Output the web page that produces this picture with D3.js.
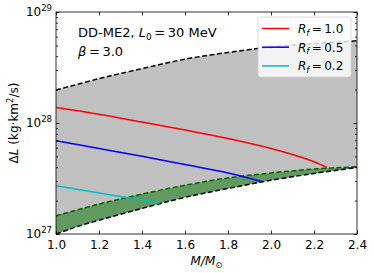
<!DOCTYPE html>
<html>
<head>
<meta charset="utf-8">
<script src="https://cdn.jsdelivr.net/npm/d3@7"></script>
<style>
  body { margin: 0; background: #fff; }
  text { font-family: "DejaVu Sans", sans-serif; fill: #000; }
</style>
</head>
<body>
<div class="chart"></div>
<script>
// values (M in solar masses, dL in kg km^2/s)
var massGrid = [1.0, 1.2, 1.4, 1.6, 1.8, 2.0, 2.2, 2.4];
var upperBound = [1.98e28, 2.51e28, 3.09e28, 3.76e28, 4.32e28, 4.84e28, 5.19e28, 5.50e28];
var greenTop = [1.46e27, 1.86e27, 2.29e27, 2.75e27, 3.20e27, 3.55e27, 3.85e27, 4.03e27];
var lowerMass = [1.0, 1.05, 1.1, 1.2, 1.4, 1.6, 1.8, 2.0, 2.2, 2.4];
var lowerBound = [1.0e27, 1.08e27, 1.17e27, 1.33e27, 1.70e27, 2.14e27, 2.57e27, 3.05e27, 3.51e27, 3.98e27];

var redMass = [1.0, 1.2, 1.4, 1.6, 1.8, 2.0, 2.1, 2.2, 2.26];
var redVals = [1.38e28, 1.20e28, 1.02e28, 8.65e27, 7.26e27, 5.90e27, 5.20e27, 4.48e27, 3.98e27];
var blueMass = [1.0, 1.2, 1.4, 1.6, 1.8, 1.96];
var blueVals = [6.92e27, 5.89e27, 5.01e27, 4.22e27, 3.55e27, 2.96e27];
var cyanMass = [1.0, 1.2, 1.4, 1.48];
var cyanVals = [2.72e27, 2.34e27, 2.02e27, 1.89e27];

var xTicks = [1.0, 1.2, 1.4, 1.6, 1.8, 2.0, 2.2, 2.4];
var yTicks = [1e27, 1e28, 1e29];
var legendLabels = ["1.0", "0.5", "0.2"];
var legendColors = ["#ff0000", "#0000ff", "#00bfbf"];

var svgWidth = 374, svgHeight = 273;
var margin = { top: 12, right: 17, bottom: 39, left: 56 };
var width = svgWidth - margin.left - margin.right;
var height = svgHeight - margin.top - margin.bottom;

var svg = d3.select(".chart").append("svg")
  .attr("width", svgWidth)
  .attr("height", svgHeight);

var chartGroup = svg.append("g")
  .attr("transform", `translate(${margin.left}, ${margin.top})`);

var x = d3.scaleLinear().domain([1.0, 2.4]).range([0, width]);
var y = d3.scaleLog().domain([1e27, 1e29]).range([height, 0]);

function pairs(ms, vs) { return ms.map((m, i) => [m, vs[i]]); }

var line = d3.line().x(d => x(d[0])).y(d => y(d[1])).curve(d3.curveCatmullRom);

// gray band between upper bound and lower bound
var upperPts = pairs(massGrid, upperBound);
var lowerPts = pairs(lowerMass, lowerBound);
var grayPath = line(upperPts) + "L" + line(lowerPts.slice().reverse()).slice(1) + "Z";
chartGroup.append("path").attr("d", grayPath).attr("fill", "#c0c0c0");

// green band
var greenPts = pairs(massGrid, greenTop);
var greenPath = line(greenPts) + "L" + line(lowerPts.slice().reverse()).slice(1) + "Z";
chartGroup.append("path").attr("d", greenPath).attr("fill", "#609a60");

// dashed bounds
chartGroup.append("path").attr("d", line(greenPts))
  .attr("fill", "none").attr("stroke", "#006400").attr("stroke-width", 1.5)
  .attr("stroke-dasharray", "5,2.5");
chartGroup.append("path").attr("d", line(upperPts))
  .attr("fill", "none").attr("stroke", "#000").attr("stroke-width", 1.5)
  .attr("stroke-dasharray", "5,2.5");
chartGroup.append("path").attr("d", line(lowerPts))
  .attr("fill", "none").attr("stroke", "#000").attr("stroke-width", 1.5)
  .attr("stroke-dasharray", "5,2.5");

// R_f curves
var curves = [pairs(redMass, redVals), pairs(blueMass, blueVals), pairs(cyanMass, cyanVals)];
curves.forEach(function (c, i) {
  chartGroup.append("path").attr("d", line(c))
    .attr("fill", "none").attr("stroke", legendColors[i]).attr("stroke-width", 1.5);
});

// axes (ticks inward on all sides)
var minorY = [];
[1e27, 1e28].forEach(function (b) {
  for (var k = 2; k <= 9; k++) minorY.push(b * k);
});

function styleAxis(g) {
  g.select(".domain").remove();
  g.selectAll("line").attr("stroke", "#000").attr("stroke-width", 0.8);
}

chartGroup.append("g")
  .attr("transform", `translate(0, ${height})`)
  .call(d3.axisBottom(x).tickValues(xTicks).tickSizeInner(-3.5).tickPadding(6).tickFormat(d3.format(".1f")))
  .call(styleAxis)
  .selectAll("text").attr("font-size", "12px").attr("font-family", "DejaVu Sans");

chartGroup.append("g")
  .call(d3.axisTop(x).tickValues(xTicks).tickSizeInner(-3.5).tickFormat(""))
  .call(styleAxis);

chartGroup.append("g")
  .call(d3.axisLeft(y).tickValues(yTicks).tickSizeInner(-3.5).tickFormat(""))
  .call(styleAxis);
chartGroup.append("g")
  .call(d3.axisLeft(y).tickValues(minorY).tickSizeInner(-2).tickFormat(""))
  .call(styleAxis);
chartGroup.append("g")
  .attr("transform", `translate(${width}, 0)`)
  .call(d3.axisRight(y).tickValues(yTicks).tickSizeInner(-3.5).tickFormat(""))
  .call(styleAxis);
chartGroup.append("g")
  .attr("transform", `translate(${width}, 0)`)
  .call(d3.axisRight(y).tickValues(minorY).tickSizeInner(-2).tickFormat(""))
  .call(styleAxis);

// y tick labels with superscripts
yTicks.forEach(function (t) {
  var lab = chartGroup.append("text")
    .attr("x", -4)
    .attr("y", y(t) + 4)
    .attr("text-anchor", "end")
    .attr("font-size", "12px");
  lab.append("tspan").text("10");
  lab.append("tspan").attr("dy", -5).attr("font-size", "8.5px").text(Math.round(Math.log10(t)));
});

// frame
chartGroup.append("rect")
  .attr("width", width).attr("height", height)
  .attr("fill", "none").attr("stroke", "#000").attr("stroke-width", 0.8);

// annotation
var ann = chartGroup.append("text").attr("x", 22).attr("y", 25).attr("font-size", "13px");
ann.append("tspan").text("DD-ME2, ");
ann.append("tspan").attr("font-style", "italic").text("L");
ann.append("tspan").attr("font-size", "9px").attr("dy", 2.5).text("0");
ann.append("tspan").attr("dy", -2.5).text("\u2009=\u200930 MeV");
chartGroup.append("text").attr("x", 22).attr("y", 44).attr("font-size", "13px")
  .html('<tspan font-style="italic">β</tspan>\u2009=\u20093.0');

// legend
var lg = chartGroup.append("g").attr("transform", `translate(${258 - margin.left}, ${17 - margin.top})`);
lg.append("rect").attr("width", 93).attr("height", 60).attr("rx", 2.5)
  .attr("fill", "#fff").attr("fill-opacity", 0.8).attr("stroke", "#d0d0d0").attr("stroke-width", 0.8);
legendLabels.forEach(function (l, i) {
  var yy = 11.5 + i * 18.7;
  lg.append("line").attr("x1", 4).attr("x2", 31).attr("y1", yy).attr("y2", yy)
    .attr("stroke", legendColors[i]).attr("stroke-width", 1.5);
  var t = lg.append("text").attr("x", 40).attr("y", yy + 4.5).attr("font-size", "12px");
  t.append("tspan").attr("font-style", "italic").text("R");
  t.append("tspan").attr("font-style", "italic").attr("font-size", "8.5px").attr("dy", 2.5).text("f");
  t.append("tspan").attr("dy", -2.5).text("\u2009=\u2009" + l);
});

// axis labels
var xl = svg.append("text")
  .attr("x", margin.left + width / 2)
  .attr("y", 265)
  .attr("text-anchor", "middle")
  .attr("font-size", "12px");
xl.append("tspan").attr("font-style", "italic").text("M/M");
xl.append("tspan").attr("font-size", "8.5px").attr("dy", 2.5).text("⊙");

var yl = svg.append("text")
  .attr("transform", `translate(18, ${margin.top + height / 2}) rotate(-90)`)
  .attr("text-anchor", "middle")
  .attr("font-size", "12px");
yl.append("tspan").text("Δ");
yl.append("tspan").attr("font-style", "italic").text("L");
yl.append("tspan").text(" (kg·km");
yl.append("tspan").attr("font-size", "8.5px").attr("dy", -5).text("2");
yl.append("tspan").attr("dy", 5).text("/s)");
</script>
</body>
</html>
